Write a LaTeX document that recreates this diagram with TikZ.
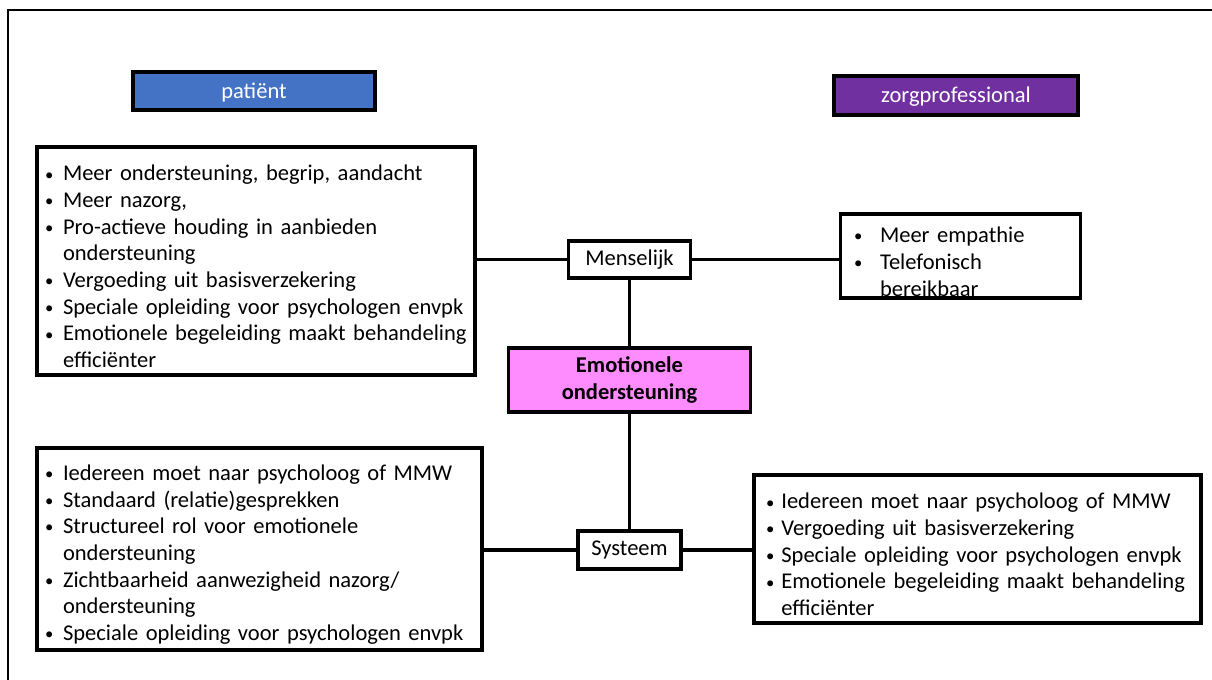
\documentclass[tikz,border=0pt]{standalone}
\usepackage{fontspec}
\setmainfont{Carlito}
\newlength\bind
% small bullet, bullet line and continuation line inside a list box
\newcommand\sbul{\raisebox{0.6pt}{\fontsize{12.5}{12.5}\selectfont\textbullet}}
\newcommand\bl[1]{\par\noindent\makebox[\bind][l]{\sbul}\mbox{#1}}
\newcommand\cl[1]{\par\noindent\hspace*{\bind}\mbox{#1}}
\definecolor{hdrblue}{HTML}{4472C4}
\definecolor{hdrpurple}{HTML}{7030A0}
\definecolor{corepink}{HTML}{FF8CFF}
\tikzset{
  px/.style={x=0.75pt,y=-0.75pt},
  framebox/.style={draw=black,line width=2.6pt,fill=white,inner sep=0pt,
    font=\fontsize{16.9}{20}\selectfont},
  listbox/.style={framebox,align=left,inner xsep=#1,inner ysep=0pt},
  header/.style={draw=black,line width=3pt,text=white,inner sep=0pt,text depth=1pt,
    font=\fontsize{16.9}{20}\selectfont},
  link/.style={line width=2.6pt},
}
\begin{document}
\begin{tikzpicture}[px]
\useasboundingbox (0,0) rectangle (1212,679);
\clip (0,0) rectangle (1212,679);
\fill[white] (0,0) rectangle (1212,679);
% outer frame, running off the page to the right and bottom
\draw[line width=1.6pt] (8,700) -- (8,10) -- (1230,10);

% column headers
\node[header,fill=hdrblue,minimum width=181.5pt,minimum height=28.5pt] (pat) at (254,91) {patiënt};
\node[header,fill=hdrpurple,minimum width=183pt,minimum height=29pt] (zorg) at (956,95.5) {zorgprofessional};

% central node and the two branches
\node[framebox,fill=corepink,minimum width=181.5pt,minimum height=48pt,align=center,
  font=\fontsize{16.9}{20}\selectfont\bfseries] (emo) at (629.5,380) {Emotionele\\ondersteuning};
\node[framebox,minimum width=91.5pt,minimum height=27.75pt] (mens) at (629.5,259.5) {Menselijk};
\node[framebox,minimum width=77.25pt,minimum height=28.5pt] (sys) at (629.5,550) {Systeem};

% patient, human aspects
\node[listbox=6pt,text width=316.5pt,minimum height=171pt] (lt) at (256,261) {\setlength\bind{13.5pt}%
\bl{Meer ondersteuning, begrip, aandacht}
\bl{Meer nazorg,}
\bl{Pro-actieve houding in aanbieden}
\cl{ondersteuning}
\bl{Vergoeding uit basisverzekering}
\bl{Speciale opleiding voor psychologen envpk}
\bl{Emotionele begeleiding maakt behandeling}
\cl{efficiënter}};

% professional, human aspects
\node[listbox=10pt,text width=159.75pt,minimum height=63pt,
  font=\fontsize{16.9}{20.5}\selectfont] (rt) at (960.5,256) {\setlength\bind{19.5pt}%
\bl{Meer empathie}
\bl{Telefonisch}
\cl{bereikbaar}};

% patient, system aspects
\node[listbox=6pt,text width=321.75pt,minimum height=151.5pt] (lb) at (259.5,549) {\setlength\bind{13.5pt}%
\bl{Iedereen moet naar psycholoog of MMW}
\bl{Standaard (relatie)gesprekken}
\bl{Structureel rol voor emotionele}
\cl{ondersteuning}
\bl{Zichtbaarheid aanwezigheid nazorg/}
\cl{ondersteuning}
\bl{Speciale opleiding voor psychologen envpk}};

% professional, system aspects
\node[listbox=9pt,text width=317.25pt,minimum height=111pt] (rb) at (977.5,549) {\setlength\bind{11.5pt}%
\bl{Iedereen moet naar psycholoog of MMW}
\bl{Vergoeding uit basisverzekering}
\bl{Speciale opleiding voor psychologen envpk}
\bl{Emotionele begeleiding maakt behandeling}
\cl{efficiënter}};

% connectors
\draw[link] (mens.south) -- (emo.north);
\draw[link] (emo.south) -- (sys.north);
\draw[link] (mens.west) -- (mens.west -| lt.east);
\draw[link] (mens.east) -- (mens.east -| rt.west);
\draw[link] (sys.west) -- (sys.west -| lb.east);
\draw[link] (sys.east) -- (sys.east -| rb.west);
\end{tikzpicture}
\end{document}
